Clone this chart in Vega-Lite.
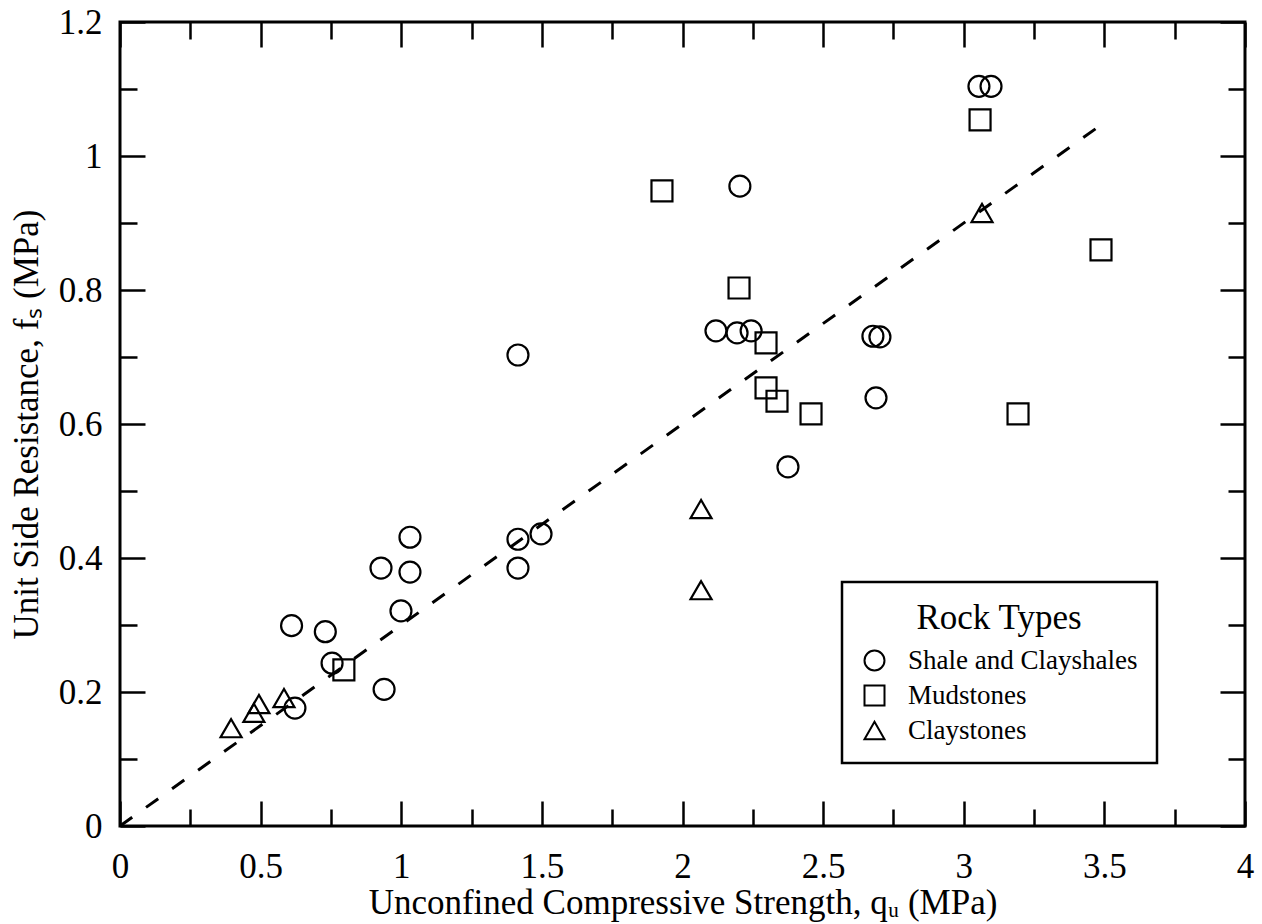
{
  "$schema": "https://vega.github.io/schema/vega-lite/v6.json",
  "width": 1125,
  "height": 804,
  "autosize": {"type": "none"},
  "padding": {"left": 120, "top": 22, "right": 17, "bottom": 98},
  "background": "white",
  "config": {
    "view": {"stroke": "black", "strokeWidth": 3},
    "font": "Liberation Serif",
    "axis": {
      "domain": false,
      "grid": false,
      "labelFont": "Liberation Serif",
      "labelFontSize": 35,
      "labelColor": "black",
      "titleFont": "Liberation Serif",
      "titleFontSize": 35,
      "titleFontWeight": "normal",
      "titleColor": "black",
      "tickColor": "black",
      "tickWidth": 2.5,
      "labelOverlap": false,
      "labelFlush": false
    },
    "legend": {
      "strokeWidth": 2.5
    }
  },
  "datasets": {
    "pts": [
      {"qu": 0.61, "fs": 0.299, "type": "Shale and Clayshales"},
      {"qu": 0.73, "fs": 0.290, "type": "Shale and Clayshales"},
      {"qu": 0.754, "fs": 0.243, "type": "Shale and Clayshales"},
      {"qu": 0.622, "fs": 0.176, "type": "Shale and Clayshales"},
      {"qu": 0.939, "fs": 0.204, "type": "Shale and Clayshales"},
      {"qu": 0.928, "fs": 0.385, "type": "Shale and Clayshales"},
      {"qu": 1.031, "fs": 0.431, "type": "Shale and Clayshales"},
      {"qu": 1.031, "fs": 0.379, "type": "Shale and Clayshales"},
      {"qu": 0.999, "fs": 0.321, "type": "Shale and Clayshales"},
      {"qu": 1.415, "fs": 0.703, "type": "Shale and Clayshales"},
      {"qu": 1.415, "fs": 0.428, "type": "Shale and Clayshales"},
      {"qu": 1.415, "fs": 0.385, "type": "Shale and Clayshales"},
      {"qu": 1.497, "fs": 0.436, "type": "Shale and Clayshales"},
      {"qu": 2.204, "fs": 0.955, "type": "Shale and Clayshales"},
      {"qu": 2.119, "fs": 0.739, "type": "Shale and Clayshales"},
      {"qu": 2.194, "fs": 0.736, "type": "Shale and Clayshales"},
      {"qu": 2.244, "fs": 0.739, "type": "Shale and Clayshales"},
      {"qu": 2.375, "fs": 0.536, "type": "Shale and Clayshales"},
      {"qu": 2.677, "fs": 0.731, "type": "Shale and Clayshales"},
      {"qu": 2.702, "fs": 0.730, "type": "Shale and Clayshales"},
      {"qu": 2.688, "fs": 0.639, "type": "Shale and Clayshales"},
      {"qu": 3.054, "fs": 1.104, "type": "Shale and Clayshales"},
      {"qu": 3.097, "fs": 1.104, "type": "Shale and Clayshales"},
      {"qu": 0.796, "fs": 0.233, "type": "Mudstones"},
      {"qu": 1.927, "fs": 0.948, "type": "Mudstones"},
      {"qu": 2.201, "fs": 0.803, "type": "Mudstones"},
      {"qu": 2.297, "fs": 0.721, "type": "Mudstones"},
      {"qu": 2.297, "fs": 0.654, "type": "Mudstones"},
      {"qu": 2.336, "fs": 0.634, "type": "Mudstones"},
      {"qu": 2.457, "fs": 0.615, "type": "Mudstones"},
      {"qu": 3.058, "fs": 1.054, "type": "Mudstones"},
      {"qu": 3.488, "fs": 0.860, "type": "Mudstones"},
      {"qu": 3.193, "fs": 0.615, "type": "Mudstones"},
      {"qu": 0.395, "fs": 0.146, "type": "Claystones"},
      {"qu": 0.476, "fs": 0.169, "type": "Claystones"},
      {"qu": 0.494, "fs": 0.182, "type": "Claystones"},
      {"qu": 0.583, "fs": 0.191, "type": "Claystones"},
      {"qu": 2.066, "fs": 0.473, "type": "Claystones"},
      {"qu": 2.066, "fs": 0.352, "type": "Claystones"},
      {"qu": 3.065, "fs": 0.915, "type": "Claystones"}
    ],
    "fit": [
      {"qu": 0, "fs": 0},
      {"qu": 3.5, "fs": 1.05}
    ]
  },
  "layer": [
    {
      "data": {"name": "fit"},
      "mark": {"type": "line", "color": "black", "strokeWidth": 3, "strokeDash": [15, 17]},
      "encoding": {
        "x": {"field": "qu", "type": "quantitative", "scale": {"domain": [0, 4], "nice": false},
          "axis": {"orient": "bottom", "values": [0.25, 0.75, 1.25, 1.75, 2.25, 2.75, 3.25, 3.75], "tickSize": -17, "labels": false, "title": null}},
        "y": {"field": "fs", "type": "quantitative", "scale": {"domain": [0, 1.2], "nice": false},
          "axis": {"orient": "left", "values": [0.1, 0.3, 0.5, 0.7, 0.9, 1.1], "tickSize": -17, "labels": false, "title": null}}
      }
    },
    {
      "data": {"name": "pts"},
      "mark": {"type": "point", "filled": false, "color": "black", "strokeWidth": 2.2, "size": 440, "opacity": 1},
      "encoding": {
        "x": {"field": "qu", "type": "quantitative",
          "axis": {"orient": "bottom", "values": [0, 0.5, 1, 1.5, 2, 2.5, 3, 3.5, 4], "format": "~g", "tickSize": -25, "labelPadding": 48, "title": "Unconfined Compressive Strength, qᵤ (MPa)", "titlePadding": 1}},
        "y": {"field": "fs", "type": "quantitative",
          "axis": {"orient": "left", "values": [0, 0.2, 0.4, 0.6, 0.8, 1, 1.2], "format": "~g", "tickSize": -25, "labelPadding": 43, "title": "Unit Side Resistance, fₛ (MPa)", "titlePadding": 14}},
        "shape": {"field": "type", "type": "nominal",
          "scale": {"domain": ["Shale and Clayshales", "Mudstones", "Claystones"], "range": ["circle", "square", "triangle-up"]},
          "legend": {
            "orient": "none", "legendX": 722, "legendY": 560,
            "title": "Rock Types", "titleFontSize": 35, "titleFont": "Liberation Serif", "titleFontWeight": "normal", "titleColor": "black",
            "titleAnchor": "middle", "titleAlign": "center", "titlePadding": 11, "titleLimit": 400,
            "labelFontSize": 27, "labelFont": "Liberation Serif", "labelColor": "black", "labelOffset": 20, "labelLimit": 400,
            "symbolSize": 400, "symbolStrokeColor": "black", "symbolStrokeWidth": 2, "symbolFillColor": "transparent",
            "rowPadding": 6, "padding": 19, "strokeColor": "black", "fillColor": "white"
          }}
      }
    },
    {
      "data": {"name": "pts"},
      "mark": {"type": "point", "opacity": 0},
      "encoding": {
        "x": {"field": "qu", "type": "quantitative",
          "axis": {"orient": "top", "values": [0, 0.5, 1, 1.5, 2, 2.5, 3, 3.5, 4], "tickSize": -25, "labels": false, "title": null}},
        "y": {"field": "fs", "type": "quantitative",
          "axis": {"orient": "right", "values": [0, 0.2, 0.4, 0.6, 0.8, 1, 1.2], "tickSize": -25, "labels": false, "title": null}}
      }
    },
    {
      "data": {"name": "pts"},
      "mark": {"type": "point", "opacity": 0},
      "encoding": {
        "x": {"field": "qu", "type": "quantitative",
          "axis": {"orient": "top", "values": [0.25, 0.75, 1.25, 1.75, 2.25, 2.75, 3.25, 3.75], "tickSize": -17, "labels": false, "title": null}},
        "y": {"field": "fs", "type": "quantitative",
          "axis": {"orient": "right", "values": [0.1, 0.3, 0.5, 0.7, 0.9, 1.1], "tickSize": -17, "labels": false, "title": null}}
      }
    }
  ],
  "resolve": {"axis": {"x": "independent", "y": "independent"}}
}
